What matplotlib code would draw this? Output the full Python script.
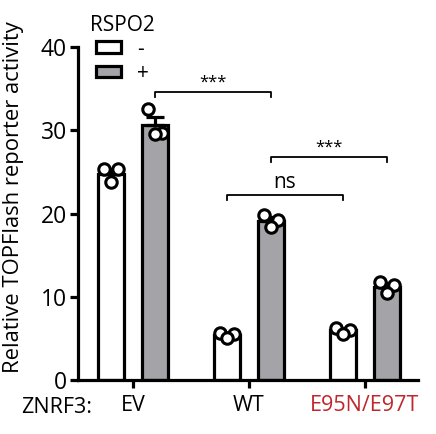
import numpy as np
import matplotlib
matplotlib.use("Agg")
import matplotlib.pyplot as plt
from matplotlib.patches import Patch

plt.rcParams["font.family"] = ["Open Sans", "DejaVu Sans"]

# =========================
# Data
# =========================
groups = ["EV", "WT", "E95N/E97T"]
group_colors = ["black", "black", "#c0272d"]

# replicate values per group: RSPO2 - and RSPO2 +
rspo2_minus = [[25.3, 25.3, 23.8],
               [5.7, 5.6, 5.1],
               [6.3, 6.0, 5.6]]
rspo2_plus = [[32.6, 29.7, 29.6],
              [19.8, 19.2, 18.4],
              [11.8, 11.4, 10.5]]

# significance comparisons: (group_a, series_a, group_b, series_b, height, label)
sig_pairs = [(0, 1, 1, 1, 34.6, "***"),
             (1, 0, 2, 0, 22.2, "ns"),
             (1, 1, 2, 1, 26.8, "***")]

# =========================
# Styling
# =========================
bar_w = 0.22
offset = 0.19
jitter = np.array([-0.06, 0.06, 0.0])
fills = ["white", "#a3a3a8"]
lw = 2.3

fig = plt.figure(figsize=(4.36, 4.34), dpi=100)
ax = fig.add_axes([0.179, 0.124, 0.78, 0.768])

x = np.arange(len(groups))
series = [rspo2_minus, rspo2_plus]
for s, vals in enumerate(series):
    vals = np.array(vals)
    means = vals.mean(axis=1)
    sems = vals.std(axis=1, ddof=1) / np.sqrt(vals.shape[1])
    xs = x + (2 * s - 1) * offset
    ax.bar(xs, means, width=bar_w, color=fills[s], edgecolor="black",
           linewidth=lw, zorder=2)
    ax.errorbar(xs, means, yerr=[np.zeros_like(sems), sems], fmt="none",
                ecolor="black", elinewidth=lw, capsize=6.5, capthick=lw, zorder=3)
    for i in range(len(groups)):
        ax.scatter(xs[i] + jitter, vals[i], s=68, facecolor="white",
                   edgecolor="black", linewidth=2.2, zorder=4)

# significance brackets
for ga, sa, gb, sb, h, lab in sig_pairs:
    x1 = x[ga] + (2 * sa - 1) * offset
    x2 = x[gb] + (2 * sb - 1) * offset
    ax.plot([x1, x1, x2, x2], [h - 0.6, h, h, h - 0.6], color="black",
            linewidth=1.3, zorder=5)
    if lab == "ns":
        ax.text((x1 + x2) / 2, h + 0.3, lab, ha="center", va="bottom",
                fontsize=15)
    else:
        ax.text((x1 + x2) / 2, h + 0.1, lab, ha="center", va="bottom",
                fontsize=12)

ax.set_xlim(-0.474, 2.46)
ax.set_ylim(0, 40)
ax.set_yticks([0, 10, 20, 30, 40])
ax.set_xticks(x)
ax.set_xticklabels(groups, fontsize=15.5)
for lbl, c in zip(ax.get_xticklabels(), group_colors):
    lbl.set_color(c)
ax.tick_params(axis="y", labelsize=16.5, width=lw, length=6, pad=2)
ax.tick_params(axis="x", width=lw, length=6, pad=5)
ax.set_ylabel("Relative TOPFlash reporter activity", fontsize=15.8)
ax.yaxis.set_label_coords(-0.16, 0.55)
for side in ["top", "right"]:
    ax.spines[side].set_visible(False)
for side in ["left", "bottom"]:
    ax.spines[side].set_linewidth(lw)

fig.text(0.048, 0.062, "ZNRF3:", fontsize=15.5, va="center")

handles = [Patch(facecolor=fills[0], edgecolor="black", linewidth=lw),
           Patch(facecolor=fills[1], edgecolor="black", linewidth=lw)]
leg = fig.legend(handles, ["-", "+"], title="RSPO2", frameon=False,
                 fontsize=15, title_fontsize=15, loc="upper left",
                 bbox_to_anchor=(90 / 436, 1 - 15 / 434), handlelength=1.2,
                 handleheight=0.5, labelspacing=0.15, handletextpad=0.75,
                 borderpad=0, borderaxespad=0)
leg._legend_box.sep = 2

fig.savefig("out.png", dpi=100)
